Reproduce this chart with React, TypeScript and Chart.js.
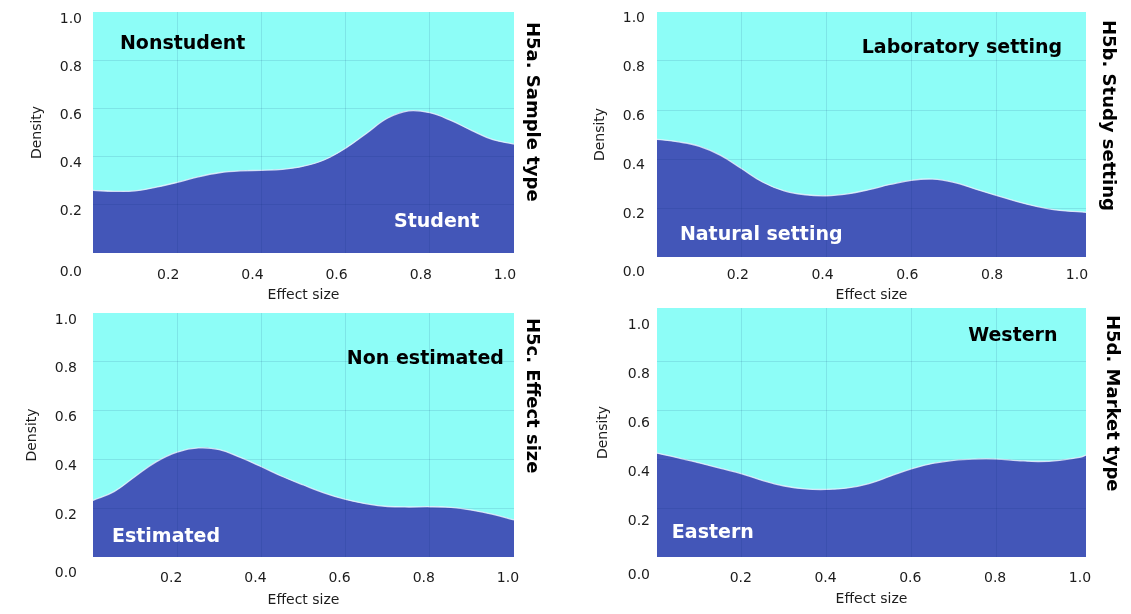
import React, { useEffect, useRef } from 'react';
import { Chart, registerables } from 'chart.js';

Chart.register(...registerables);
Chart.defaults.font.family = '"DejaVu Sans", Verdana, sans-serif';

// ---- data ----
const effectSize = [0, 0.05, 0.1, 0.15, 0.2, 0.25, 0.3, 0.35, 0.4, 0.45, 0.5, 0.55, 0.6, 0.65, 0.7, 0.75, 0.8, 0.85, 0.9, 0.95, 1.0];
const effectSizeExt = [0, 0.05, 0.1, 0.15, 0.2, 0.25, 0.3, 0.35, 0.4, 0.45, 0.5, 0.55, 0.6, 0.65, 0.7, 0.75, 0.8, 0.85, 0.9, 0.95, 1.0, 1.012];

// H5a: share of "Student" (rest = Nonstudent)
const studentShare = [0.26, 0.256, 0.258, 0.273, 0.293, 0.316, 0.333, 0.341, 0.343, 0.347, 0.36, 0.387, 0.435, 0.497, 0.56, 0.59, 0.582, 0.55, 0.508, 0.47, 0.452];
// H5b: share of "Natural setting" (rest = Laboratory setting)
const naturalShare = [0.48, 0.47, 0.452, 0.415, 0.36, 0.305, 0.27, 0.254, 0.25, 0.258, 0.275, 0.296, 0.313, 0.318, 0.305, 0.278, 0.252, 0.226, 0.205, 0.19, 0.184, 0.182];
// H5c: share of "Estimated" (rest = Non estimated)
const estimatedShare = [0.232, 0.268, 0.33, 0.39, 0.43, 0.447, 0.44, 0.408, 0.37, 0.33, 0.295, 0.262, 0.236, 0.218, 0.207, 0.205, 0.206, 0.203, 0.192, 0.175, 0.152];
// H5d: share of "Eastern" (rest = Western)
const easternShare = [0.424, 0.405, 0.384, 0.362, 0.34, 0.312, 0.29, 0.278, 0.276, 0.282, 0.3, 0.33, 0.36, 0.382, 0.395, 0.4, 0.4, 0.394, 0.39, 0.395, 0.408, 0.416];

const densityTicks = [0, 0.2, 0.4, 0.6, 0.8, 1.0];
const effectTicks = [0, 0.2, 0.4, 0.6, 0.8, 1.0];

const panelTitles = ['H5a. Sample type', 'H5b. Study setting', 'H5c. Effect size', 'H5d. Market type'];
const upperGroups = ['Nonstudent', 'Laboratory setting', 'Non estimated', 'Western'];
const lowerGroups = ['Student', 'Natural setting', 'Estimated', 'Eastern'];

// ---- styles ----
const CYAN = '#8DFDF7';
const BLUE = '#4356B8';
const GRID = 'rgba(0,40,110,0.11)';
const TEXT = '#1c1c1c';

type PanelCfg = {
  left: number; top: number; width: number; height: number;
  area: { l: number; t: number; r: number; b: number };
  padL: number; yPad: number; yLO: number; yZeroLH: number;
  xPad: number; xLO: number; xMax: number; yMax: number;
  xs: number[]; ys: number[];
  title: string; sideDx: number; sideDy: number;
  upper: string; upperPos: [number, number];
  lower: string; lowerPos: [number, number];
};

const panels: PanelCfg[] = [
  {
    left: 0, top: 0, width: 560, height: 308,
    area: { l: 93, t: 12, r: 514, b: 253 },
    padL: 25, yPad: 11, yLO: 7, yZeroLH: 1.71, xPad: 14, xLO: -9, xMax: 1.0, yMax: 1.0,
    xs: effectSize, ys: studentShare,
    title: panelTitles[0], sideDx: 18, sideDy: 10,
    upper: upperGroups[0], upperPos: [0.064, 0.867],
    lower: lowerGroups[0], lowerPos: [0.715, 0.129],
  },
  {
    left: 560, top: 0, width: 571, height: 308,
    area: { l: 97, t: 12, r: 526, b: 257 },
    padL: 28, yPad: 12, yLO: 6, yZeroLH: 1.29, xPad: 10, xLO: -4, xMax: 1.012, yMax: 1.0,
    xs: effectSizeExt, ys: naturalShare,
    title: panelTitles[1], sideDx: 22, sideDy: 8,
    upper: upperGroups[1], upperPos: [0.483, 0.853],
    lower: lowerGroups[1], lowerPos: [0.054, 0.09],
  },
  {
    left: 0, top: 295, width: 560, height: 318,
    area: { l: 93, t: 18, r: 514, b: 262 },
    padL: 20, yPad: 16, yLO: 7, yZeroLH: 1.29, xPad: 13, xLO: -6, xMax: 1.0, yMax: 1.0,
    xs: effectSize, ys: estimatedShare,
    title: panelTitles[2], sideDx: 18, sideDy: 5,
    upper: upperGroups[2], upperPos: [0.603, 0.811],
    lower: lowerGroups[2], lowerPos: [0.045, 0.082],
  },
  {
    left: 560, top: 295, width: 571, height: 317,
    area: { l: 97, t: 13, r: 526, b: 262 },
    padL: 31, yPad: 7, yLO: 13, yZeroLH: 0.71, xPad: 13, xLO: -1, xMax: 1.012, yMax: 1.017,
    xs: effectSizeExt, ys: easternShare,
    title: panelTitles[3], sideDx: 26, sideDy: 7,
    upper: upperGroups[3], upperPos: [0.734, 0.902],
    lower: lowerGroups[3], lowerPos: [0.035, 0.098],
  },
];

const panelTextPlugin = {
  id: 'panelText',
  afterDraw(chart: any, _args: any, opts: any) {
    const { ctx, chartArea, scales } = chart;
    ctx.save();
    ctx.textAlign = 'left';
    ctx.textBaseline = 'middle';
    ctx.font = 'bold 19px "DejaVu Sans", Verdana, sans-serif';
    ctx.fillStyle = '#000';
    ctx.fillText(opts.upper, scales.x.getPixelForValue(opts.upperPos[0]), scales.y.getPixelForValue(opts.upperPos[1]));
    ctx.fillStyle = '#fff';
    ctx.fillText(opts.lower, scales.x.getPixelForValue(opts.lowerPos[0]), scales.y.getPixelForValue(opts.lowerPos[1]));
    ctx.translate(chartArea.right + opts.sideDx, chartArea.top + opts.sideDy);
    ctx.rotate(Math.PI / 2);
    ctx.fillStyle = '#000';
    ctx.font = 'bold 18px "DejaVu Sans", Verdana, sans-serif';
    ctx.fillText(opts.title, 0, 0);
    ctx.restore();
  },
};

function gridColor(ctx: any) {
  const v = ctx.tick ? ctx.tick.value : 0;
  return v <= 0 || v >= 1 ? 'rgba(0,0,0,0)' : GRID;
}

function Panel({ cfg }: { cfg: PanelCfg }) {
  const ref = useRef<HTMLCanvasElement | null>(null);
  useEffect(() => {
    if (!ref.current) return;
    const pts = cfg.xs.map((x, i) => ({ x, y: cfg.ys[i] }));
    const yWidth = cfg.area.l - cfg.padL;
    const xHeight = cfg.height - cfg.area.b;
    const chart = new Chart(ref.current, {
      type: 'line',
      data: {
        datasets: [
          {
            label: cfg.lower,
            data: pts,
            fill: 'origin',
            backgroundColor: BLUE,
            borderColor: 'rgba(235,245,255,0.8)',
            borderWidth: 1.3,
            pointRadius: 0,
            tension: 0.4,
          },
          {
            label: cfg.upper,
            data: pts,
            fill: 'end',
            backgroundColor: CYAN,
            borderWidth: 0,
            pointRadius: 0,
            tension: 0.4,
          },
        ],
      },
      options: {
        responsive: false,
        animation: false,
        devicePixelRatio: 1,
        events: [],
        layout: {
          autoPadding: false,
          padding: { left: cfg.padL, top: cfg.area.t, right: cfg.width - cfg.area.r, bottom: 0 },
        },
        plugins: {
          legend: { display: false },
          tooltip: { enabled: false },
          panelText: {
            title: cfg.title, sideDx: cfg.sideDx, sideDy: cfg.sideDy,
            upper: cfg.upper, upperPos: cfg.upperPos,
            lower: cfg.lower, lowerPos: cfg.lowerPos,
          },
        } as any,
        scales: {
          x: {
            type: 'linear',
            min: 0,
            max: cfg.xMax,
            afterBuildTicks: (s: any) => { s.ticks = effectTicks.map((v) => ({ value: v })); },
            afterFit: (s: any) => { s.height = xHeight; s.paddingLeft = 0; s.paddingRight = 0; },
            grid: { color: gridColor, drawTicks: false, lineWidth: 1, z: 1 },
            border: { display: false },
            ticks: {
              autoSkip: false, maxRotation: 0, minRotation: 0,
              padding: cfg.xPad, labelOffset: cfg.xLO, color: TEXT,
              font: { size: 14 },
              callback: (v: any) => (Number(v) === 0 ? '' : Number(v).toFixed(1)),
            },
            title: { display: true, text: 'Effect size', color: TEXT, font: { size: 14 }, padding: { top: 4, bottom: 4 } },
          },
          y: {
            type: 'linear',
            min: 0,
            max: cfg.yMax,
            afterBuildTicks: (s: any) => { s.ticks = densityTicks.map((v) => ({ value: v })); },
            afterFit: (s: any) => { s.width = yWidth; s.paddingTop = 0; s.paddingBottom = 0; },
            grid: { color: gridColor, drawTicks: false, lineWidth: 1, z: 1 },
            border: { display: false },
            ticks: {
              autoSkip: false,
              padding: cfg.yPad, labelOffset: cfg.yLO, color: TEXT,
              font: { size: 14, lineHeight: cfg.yZeroLH },
              callback: (v: any) => (Number(v) === 0 ? ['', '0.0'] : Number(v).toFixed(1)),
            },
            title: { display: true, text: 'Density', color: TEXT, font: { size: 14 }, padding: { top: 4, bottom: 4 } },
          },
        },
      } as any,
      plugins: [panelTextPlugin],
    });
    return () => chart.destroy();
  }, [cfg]);
  return (
    <canvas
      ref={ref}
      width={cfg.width}
      height={cfg.height}
      style={{ position: 'absolute', left: cfg.left, top: cfg.top, width: cfg.width, height: cfg.height }}
    />
  );
}

export default function App() {
  return (
    <div style={{ position: 'absolute', left: 0, top: 0, width: 1131, height: 614, background: '#fff', overflow: 'hidden' }}>
      {panels.map((p, i) => (
        <Panel key={i} cfg={p} />
      ))}
    </div>
  );
}
